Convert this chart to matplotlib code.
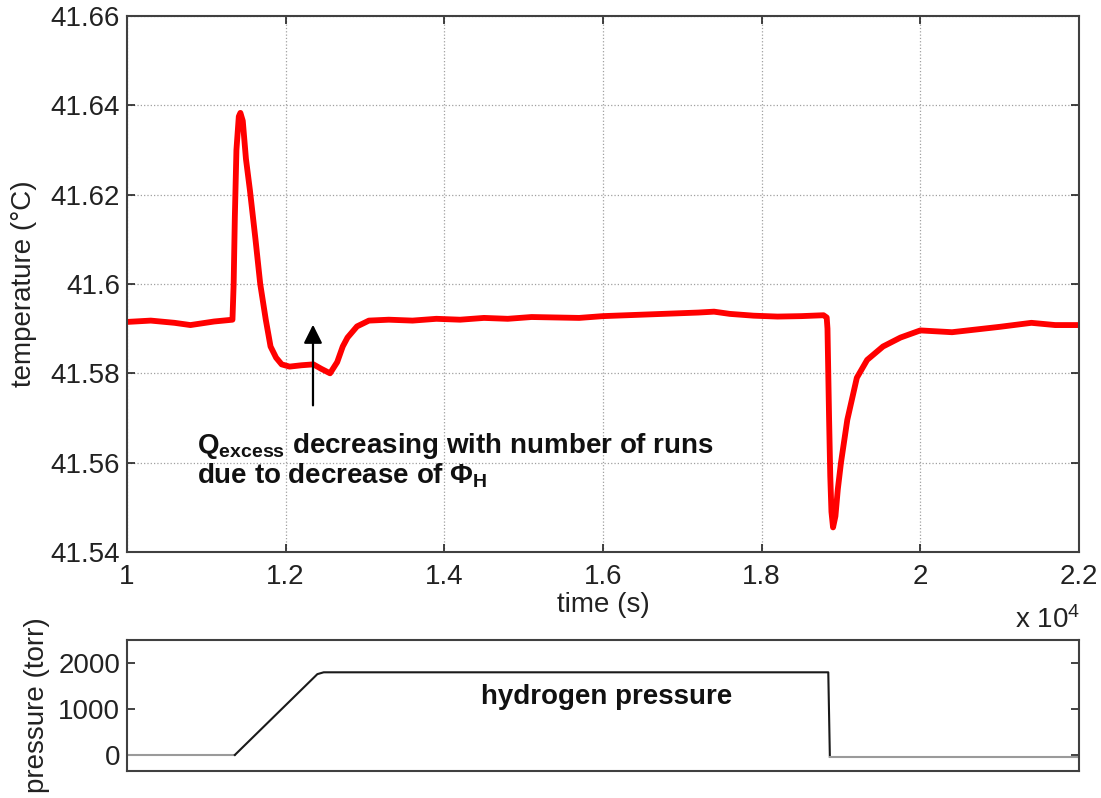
import matplotlib
matplotlib.use("Agg")
import matplotlib.pyplot as plt

#--------------------------------------------------------
# data
#--------------------------------------------------------
temp_time = [10000, 10300, 10600, 10800, 11100, 11330, 11345, 11360, 11380,
             11410, 11430, 11460, 11500, 11550, 11620, 11680, 11750, 11810,
             11880, 11950, 12050, 12200, 12350, 12450, 12560, 12650, 12720,
             12780, 12900, 13050, 13300, 13600, 13900, 14200, 14500, 14800,
             15100, 15400, 15700, 16000, 16300, 16600, 16900, 17200, 17400,
             17600, 17900, 18200, 18500, 18780, 18820, 18830, 18840, 18850,
             18865, 18880, 18900, 18930, 18960, 19000, 19080, 19200, 19330,
             19530, 19750, 20000, 20400, 20800, 21000, 21400, 21700, 22000]
temp_val = [41.5915, 41.5918, 41.5913, 41.5908, 41.5916, 41.5920, 41.6000,
            41.6150, 41.6300, 41.6375, 41.6383, 41.6365, 41.6280, 41.6210,
            41.6100, 41.6000, 41.5920, 41.5860, 41.5835, 41.5820, 41.5815,
            41.5818, 41.5820, 41.5810, 41.5800, 41.5825, 41.5860, 41.5880,
            41.5905, 41.5918, 41.5920, 41.5918, 41.5922, 41.5920, 41.5924,
            41.5922, 41.5926, 41.5925, 41.5924, 41.5928, 41.5930, 41.5932,
            41.5934, 41.5936, 41.5938, 41.5933, 41.5929, 41.5927, 41.5928,
            41.5930, 41.5925, 41.5900, 41.5800, 41.5700, 41.5570, 41.5490,
            41.5455, 41.5480, 41.5540, 41.5600, 41.5696, 41.5790, 41.5830,
            41.5860, 41.5880, 41.5896, 41.5892, 41.5900, 41.5904, 41.5913,
            41.5908, 41.5908]

press_time = [10000, 11360, 12400, 12480, 18840, 18860, 22000]
press_val = [0, 0, 1760, 1800, 1800, -40, -40]

x_ticks = [10000, 12000, 14000, 16000, 18000, 20000, 22000]
x_labels = ["1", "1.2", "1.4", "1.6", "1.8", "2", "2.2"]
t_ticks = [41.54, 41.56, 41.58, 41.60, 41.62, 41.64, 41.66]
t_labels = ["41.54", "41.56", "41.58", "41.6", "41.62", "41.64", "41.66"]
p_ticks = [0, 1000, 2000]
p_labels = ["0", "1000", "2000"]


def style_axes(ax):
    for s in ax.spines.values():
        s.set_color("#404040")
        s.set_linewidth(1.5)
    ax.tick_params(direction="in", length=6, width=1.2, labelsize=20,
                   top=True, right=True, colors="#222222")


def main():
    plt.rcParams["font.family"] = ["Liberation Sans", "DejaVu Sans"]
    plt.rcParams["mathtext.fontset"] = "custom"
    plt.rcParams["mathtext.rm"] = "Liberation Sans"
    plt.rcParams["mathtext.bf"] = "Liberation Sans:bold"
    plt.rcParams["mathtext.it"] = "Liberation Sans:italic"

    fig = plt.figure(figsize=(11.01, 7.98), dpi=100)

    #--------------------------------------------------------
    # top: temperature
    #--------------------------------------------------------
    ax = fig.add_axes([0.1153, 0.3083, 0.8647, 0.6717])
    ax.plot(temp_time, temp_val, color="red", lw=4.2, solid_joinstyle="round")
    ax.set_xlim(10000, 22000)
    ax.set_ylim(41.54, 41.66)
    ax.set_xticks(x_ticks)
    ax.set_xticklabels(x_labels)
    ax.set_yticks(t_ticks)
    ax.set_yticklabels(t_labels)
    ax.grid(True, linestyle=":", color="#a0a0a0", lw=0.9)
    style_axes(ax)
    ax.tick_params(axis="x", pad=9)
    ax.tick_params(axis="y", pad=5)
    ax.set_ylabel("temperature (°C)", fontsize=20, color="#222222")
    ax.yaxis.set_label_coords(-0.094, 0.5)
    ax.set_xlabel("time (s)", fontsize=20, color="#222222")
    ax.xaxis.set_label_coords(0.5, -0.075)

    ax.annotate("", xy=(12345, 41.5915), xytext=(12345, 41.5722),
                arrowprops=dict(arrowstyle="-|>", color="black", lw=1.6,
                                mutation_scale=28))
    ax.text(10880, 41.5622, r"Q$_{\mathbf{excess}}$ decreasing with number of runs",
            fontsize=20, fontweight="bold", va="baseline", color="#111111")
    ax.text(10880, 41.5554, r"due to decrease of $\mathbf{\Phi}_{\mathbf{H}}$",
            fontsize=20, fontweight="bold", va="baseline", color="#111111")

    fig.text(0.981, 0.213, r"x 10$^4$", fontsize=20, ha="right", va="baseline",
             color="#222222")

    #--------------------------------------------------------
    # bottom: pressure
    #--------------------------------------------------------
    bx = fig.add_axes([0.1153, 0.0338, 0.8647, 0.164])
    bx.plot(press_time[0:2], press_val[0:2], color="#9a9a9a", lw=1.5)
    bx.plot(press_time[1:6], press_val[1:6], color="#1a1a1a", lw=1.5)
    bx.plot(press_time[5:7], press_val[5:7], color="#9a9a9a", lw=1.5)
    bx.set_xlim(10000, 22000)
    bx.set_ylim(-350, 2500)
    bx.set_xticks([])
    bx.set_yticks(p_ticks)
    bx.set_yticklabels(p_labels)
    style_axes(bx)
    bx.tick_params(axis="y", pad=5)
    bx.set_ylabel("pressure (torr)", fontsize=20, color="#222222")
    bx.yaxis.set_label_coords(-0.081, 0.5)
    bx.text(16050, 1260, "hydrogen pressure", fontsize=20, fontweight="bold",
            ha="center", va="center", color="#111111")

    fig.savefig("out.png", dpi=100)


if __name__ == "__main__":
    main()
